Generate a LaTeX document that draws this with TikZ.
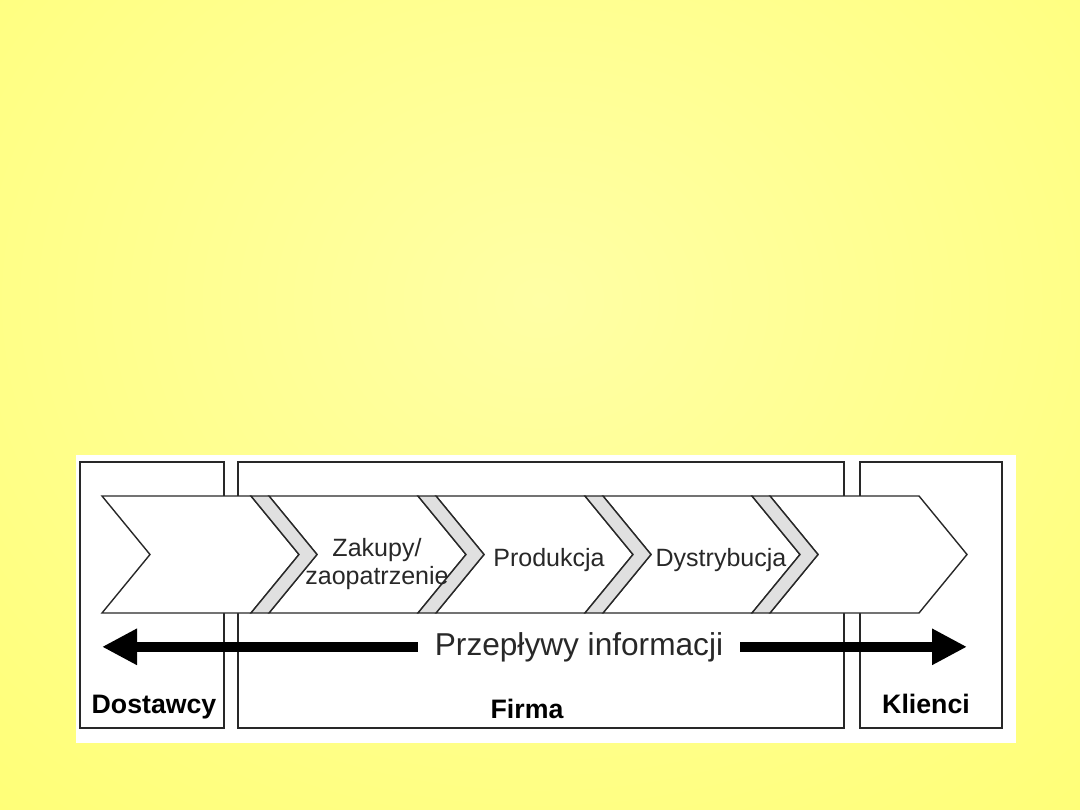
\documentclass[tikz,border=0pt]{standalone}
\usepackage{fontspec}
\setmainfont{Liberation Sans}
\usetikzlibrary{arrows.meta}
\definecolor{slideyellow}{RGB}{255,255,102}
\definecolor{slidelight}{RGB}{255,255,165}
\definecolor{bandgray}{RGB}{224,224,224}
\definecolor{inkgray}{RGB}{40,40,40}

\tikzset{
  boxline/.style={draw=inkgray,line width=0.4mm},
  chevline/.style={draw=inkgray,line width=0.35mm,line join=miter},
  stage/.style={text=inkgray,font=\fontsize{17.8pt}{19.6pt}\selectfont,align=center},
  party/.style={text=black,font=\fontsize{19pt}{21pt}\selectfont\bfseries},
  flow/.style={line width=2.5mm,-{Triangle[length=8.75mm,width=8.5mm]}}
}

\begin{document}
\begin{tikzpicture}[x=0.25mm,y=-0.25mm]
  \useasboundingbox (0,0) rectangle (1080,810);
  \begin{scope}
    \clip (0,0) rectangle (1080,810);
    \shade[inner color=slidelight,outer color=slideyellow]
      (540,300) ellipse (1150 and 950);
  \end{scope}
  \fill[white] (76,455) rectangle (1016,743);

  % party boxes
  \draw[boxline] (80,462) rectangle (224,728);
  \draw[boxline] (238,462) rectangle (844,728);
  \draw[boxline] (860,462) rectangle (1002,728);

  % chain of stages
  \foreach \i in {0,...,4}{
    \pgfmathsetmacro{\xa}{102+167*\i}
    \pgfmathsetmacro{\xb}{\xa+149}
    \filldraw[fill=white,chevline] (\xa,496) -- (\xb,496) -- (\xb+48,554.5)
      -- (\xb,613) -- (\xa,613) -- (\xa+48,554.5) -- cycle;
  }
  \foreach \i in {0,...,3}{
    \pgfmathsetmacro{\xb}{251+167*\i}
    \filldraw[fill=bandgray,chevline] (\xb,496) -- (\xb+18,496) -- (\xb+66,554.5)
      -- (\xb+18,613) -- (\xb,613) -- (\xb+48,554.5) -- cycle;
  }

  \node[stage] (zakupy) at (377,564) {Zakupy/\\zaopatrzenie};
  \node[stage,anchor=base] (produkcja) at (549,566) {Produkcja};
  \node[stage,anchor=base] (dystrybucja) at (721,566) {Dystrybucja};

  % information flow
  \node[font=\fontsize{22.5pt}{24pt}\selectfont,text=inkgray,anchor=base,
        inner xsep=4.25mm] (info) at (579,655) {Przepływy informacji};
  \coordinate (tipL) at (102,647);
  \coordinate (tipR) at (967,647);
  \draw[flow] (info.west) -- (info.west -| tipL);
  \draw[flow] (info.east) -- (info.east -| tipR);

  \node[party,anchor=base] (dostawcy) at (154,713) {Dostawcy};
  \node[party,anchor=base] (firma) at (527,718) {Firma};
  \node[party,anchor=base] (klienci) at (926,713) {Klienci};
\end{tikzpicture}
\end{document}
